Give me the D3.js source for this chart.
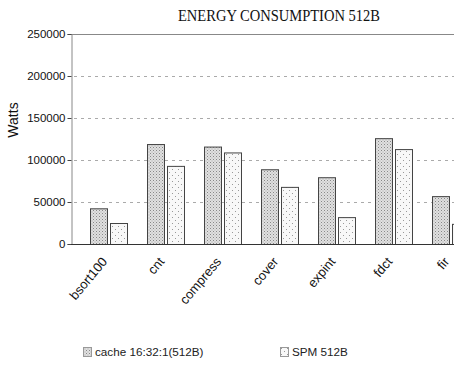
<!DOCTYPE html>
<html lang="en">

<head>
    <meta charset="UTF-8">
    <title>Energy Consumption 512B</title>
    <script src="https://d3js.org/d3.v7.min.js"></script>
    <style>
        body {
            margin: 0;
            background: #fff;
        }

        .tick-label {
            font-family: "Liberation Sans", Arial, sans-serif;
            font-size: 11.5px;
            fill: #111;
        }

        .grid {
            stroke: #aaa;
            stroke-dasharray: 3, 4;
        }
    </style>
</head>

<body>
    <svg width="454" height="371"></svg>

    <script>
        // Chart data
        const categories = ["bsort100", "cnt", "compress", "cover", "expint", "fdct", "fir"];
        const seriesNames = ["cache 16:32:1(512B)", "SPM 512B"];
        const cacheValues = [42500, 119000, 116000, 89000, 79500, 126000, 57000];
        const spmValues = [25000, 93000, 109000, 68000, 32000, 113000, 24000];
        const yTicks = [0, 50000, 100000, 150000, 200000, 250000];

        const width = 454;
        const height = 371;
        const plotLeft = 71, plotTop = 34, plotBottom = 244;

        const svg = d3.select("svg")
            .attr("width", width)
            .attr("height", height);

        // fill patterns (dense dots for cache, sparse dots for SPM)
        const defs = svg.append("defs");
        const pDense = defs.append("pattern")
            .attr("id", "dense")
            .attr("width", 3).attr("height", 3)
            .attr("patternUnits", "userSpaceOnUse");
        pDense.append("rect").attr("width", 3).attr("height", 3).attr("fill", "#e0e0e0");
        pDense.append("rect").attr("x", 0).attr("y", 0).attr("width", 1).attr("height", 1).attr("fill", "#888");
        pDense.append("rect").attr("x", 1.5).attr("y", 1.5).attr("width", 1).attr("height", 1).attr("fill", "#aaa");

        const pSparse = defs.append("pattern")
            .attr("id", "sparse")
            .attr("width", 6).attr("height", 6)
            .attr("patternUnits", "userSpaceOnUse");
        pSparse.append("rect").attr("width", 6).attr("height", 6).attr("fill", "#f8f8f8");
        pSparse.append("rect").attr("x", 1).attr("y", 1).attr("width", 1).attr("height", 1).attr("fill", "#999");
        pSparse.append("rect").attr("x", 4).attr("y", 4).attr("width", 1).attr("height", 1).attr("fill", "#999");

        const fills = ["url(#dense)", "url(#sparse)"];

        const x0 = d3.scaleBand()
            .domain(categories)
            .range([plotLeft, plotLeft + 418])
            .paddingInner(1 / 3)
            .paddingOuter(1 / 3);

        const x1 = d3.scaleBand()
            .domain([0, 1])
            .range([0, x0.bandwidth()])
            .paddingInner(0.1);

        const y = d3.scaleLinear()
            .domain([0, 250000])
            .range([plotBottom, plotTop]);

        // title
        svg.append("text")
            .attr("x", 279)
            .attr("y", 21)
            .attr("text-anchor", "middle")
            .attr("font-family", "'Liberation Serif', 'Times New Roman', serif")
            .attr("font-size", 16)
            .attr("textLength", 202)
            .attr("lengthAdjust", "spacingAndGlyphs")
            .attr("fill", "#111")
            .text("ENERGY CONSUMPTION 512B");

        // grid lines
        svg.selectAll(".grid")
            .data(yTicks.filter(d => d > 0 && d < 250000))
            .enter().append("line")
            .attr("class", "grid")
            .attr("x1", plotLeft + 3)
            .attr("x2", width)
            .attr("y1", d => y(d) + 0.5)
            .attr("y2", d => y(d) + 0.5);

        // top frame line
        svg.append("line")
            .attr("x1", plotLeft).attr("x2", width)
            .attr("y1", y(250000) + 0.5).attr("y2", y(250000) + 0.5)
            .attr("stroke", "#888");

        // y axis
        const yAxis = svg.append("g")
            .attr("transform", `translate(${plotLeft + 0.5},0)`)
            .call(d3.axisLeft(y).tickValues(yTicks).tickSize(4).tickFormat(d3.format("d")));
        yAxis.select(".domain").attr("stroke", "#888");
        yAxis.selectAll(".tick line").attr("stroke", "#444");
        yAxis.attr("font-size", null).attr("font-family", null);
        yAxis.selectAll(".tick text")
            .attr("class", "tick-label")
            .attr("x", -6);

        svg.append("text")
            .attr("transform", "translate(18,120) rotate(-90)")
            .attr("text-anchor", "middle")
            .attr("font-family", "'Liberation Sans', Arial, sans-serif")
            .attr("font-size", 14)
            .attr("fill", "#111")
            .text("Watts");

        // bars
        const groups = svg.selectAll(".group")
            .data(categories)
            .enter().append("g")
            .attr("class", "group")
            .attr("transform", d => `translate(${x0(d)},0)`);

        groups.selectAll("rect")
            .data((d, i) => [cacheValues[i], spmValues[i]])
            .enter().append("rect")
            .attr("x", (d, j) => x1(j) + 0.5)
            .attr("y", d => y(d) + 0.5)
            .attr("width", x1.bandwidth() - 1)
            .attr("height", d => plotBottom - y(d))
            .attr("fill", (d, j) => fills[j])
            .attr("stroke", "#444")
            .attr("stroke-width", 1);

        // x axis line
        svg.append("line")
            .attr("x1", plotLeft).attr("x2", width)
            .attr("y1", plotBottom + 0.5).attr("y2", plotBottom + 0.5)
            .attr("stroke", "#333");

        // rotated category labels
        svg.selectAll(".x-label")
            .data(categories)
            .enter().append("text")
            .attr("class", "x-label")
            .attr("text-anchor", "end")
            .attr("font-family", "'Liberation Sans', Arial, sans-serif")
            .attr("font-size", 13)
            .attr("fill", "#111")
            .attr("transform", d => `translate(${x0(d) + x0.bandwidth() / 2 - 1},${plotBottom + 18}) rotate(-50)`)
            .text(d => d);

        // legend
        const legendX = [83, 280];
        const legend = svg.selectAll(".legend")
            .data(seriesNames)
            .enter().append("g")
            .attr("class", "legend")
            .attr("transform", (d, i) => `translate(${legendX[i]},347)`);

        legend.append("rect")
            .attr("x", 0.5).attr("y", 0.5)
            .attr("width", 8).attr("height", 9)
            .attr("fill", (d, i) => fills[i])
            .attr("stroke", "#999");

        legend.append("text")
            .attr("x", 12)
            .attr("y", 9)
            .attr("font-family", "'Liberation Sans', Arial, sans-serif")
            .attr("font-size", 11.7)
            .attr("fill", "#222")
            .text(d => d);
    </script>
</body>

</html>
